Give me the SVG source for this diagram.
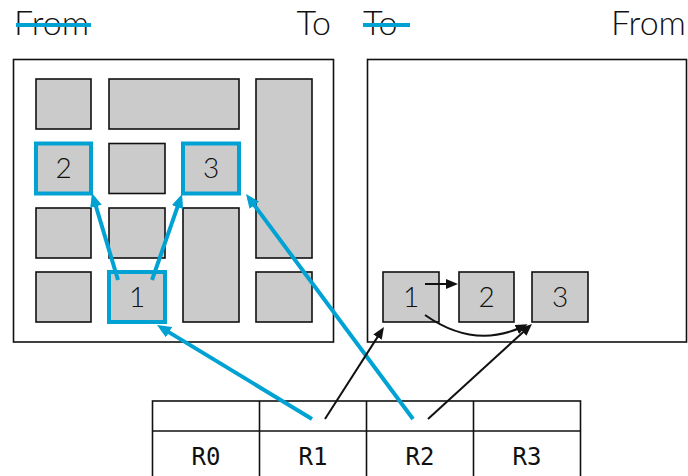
<svg xmlns="http://www.w3.org/2000/svg" width="688" height="476" viewBox="0 0 688 476">
<style>
.hdr{font-family:Lato,"Open Sans","Liberation Sans",sans-serif;font-weight:300;font-size:34px;fill:#111}
.num{font-family:Lato,"Open Sans","Liberation Sans",sans-serif;font-weight:300;font-size:28px;fill:#111;text-anchor:middle}
.mono{font-family:"DejaVu Sans Mono","Liberation Mono",monospace;font-size:24px;fill:#111;text-anchor:middle}
.panel{fill:#fff;stroke:#111;stroke-width:1.6}
.cell{fill:#cbcbcb;stroke:#111;stroke-width:1.6}
.sel{fill:none;stroke:#00a2d3;stroke-width:4}
.strike{stroke:#00a2d3;stroke-width:4}
.blue{fill:none;stroke:#00a2d3;stroke-width:4}
.black{fill:none;stroke:#111;stroke-width:2}
.tbl{fill:none;stroke:#111;stroke-width:1.6}
</style>
<defs>
<marker id="ab" markerUnits="userSpaceOnUse" markerWidth="14" markerHeight="12" refX="9" refY="6" orient="auto"><path d="M0,0 L14,6 L0,12 z" fill="#00a2d3"/></marker>
<marker id="ak" markerUnits="userSpaceOnUse" markerWidth="12" markerHeight="10" refX="8" refY="5" orient="auto"><path d="M0,0 L12,5 L0,10 z" fill="#111"/></marker>
</defs>
<g id="headers">
<text class="hdr" x="14" y="35">From</text>
<line class="strike" x1="16" y1="25" x2="91" y2="25"/>
<text class="hdr" x="331" y="35" text-anchor="end">To</text>
<text class="hdr" x="363" y="35">To</text>
<line class="strike" x1="363" y1="25" x2="410" y2="25"/>
<text class="hdr" x="686" y="35" text-anchor="end">From</text>
</g>
<g id="from-panel">
<rect class="panel" x="13.5" y="59.5" width="320" height="282.5"/>
<rect class="cell" x="36" y="79" width="55" height="50"/>
<rect class="cell" x="109" y="79" width="130" height="50"/>
<rect class="cell" x="256" y="79" width="56" height="179"/>
<rect class="cell" x="109" y="143.5" width="56" height="50"/>
<rect class="cell" x="36" y="208" width="55" height="50"/>
<rect class="cell" x="109" y="208" width="56" height="50"/>
<rect class="cell" x="183" y="208" width="56" height="114"/>
<rect class="cell" x="36" y="272" width="55" height="50"/>
<rect class="cell" x="256" y="272" width="56" height="50"/>
</g>
<g id="src-2">
<rect class="cell" x="36" y="143.5" width="55" height="50"/>
<rect class="sel" x="36" y="143.5" width="55" height="50"/>
<text class="num" x="63.5" y="178">2</text>
</g>
<g id="src-3">
<rect class="cell" x="183" y="143.5" width="56" height="50"/>
<rect class="sel" x="183" y="143.5" width="56" height="50"/>
<text class="num" x="211" y="178">3</text>
</g>
<g id="src-1">
<rect class="cell" x="109" y="272" width="56" height="50"/>
<rect class="sel" x="109" y="272" width="56" height="50"/>
<text class="num" x="137" y="307">1</text>
</g>
<g id="to-panel">
<rect class="panel" x="367.5" y="59.5" width="319" height="282.5"/>
</g>
<g id="dst-1">
<rect class="cell" x="383" y="272" width="56" height="50"/>
<text class="num" x="411" y="307">1</text>
</g>
<g id="dst-2">
<rect class="cell" x="459" y="272" width="55" height="50"/>
<text class="num" x="486.5" y="307">2</text>
</g>
<g id="dst-3">
<rect class="cell" x="532" y="272" width="56" height="50"/>
<text class="num" x="560" y="307">3</text>
</g>
<g id="registers">
<rect class="tbl" x="152.5" y="401" width="428" height="90"/>
<line class="tbl" x1="152.5" y1="431" x2="580.5" y2="431"/>
<line class="tbl" x1="259.5" y1="401" x2="259.5" y2="476"/>
<line class="tbl" x1="366.5" y1="401" x2="366.5" y2="476"/>
<line class="tbl" x1="473.5" y1="401" x2="473.5" y2="476"/>
<text class="mono" x="206" y="465">R0</text>
<text class="mono" x="313" y="465">R1</text>
<text class="mono" x="420" y="465">R2</text>
<text class="mono" x="527" y="465">R3</text>
</g>
<g id="connectors">
<line class="blue" x1="118" y1="280" x2="93.4" y2="197.8" marker-end="url(#ab)"/>
<line class="blue" x1="152" y1="280" x2="180.4" y2="198.7" marker-end="url(#ab)"/>
<line class="blue" x1="413" y1="419" x2="249" y2="198" marker-end="url(#ab)"/>
<line class="blue" x1="312" y1="419" x2="161.3" y2="327.6" marker-end="url(#ab)"/>
<line class="black" x1="325" y1="419" x2="381.8" y2="330.4" marker-end="url(#ak)"/>
<line class="black" x1="428" y1="419" x2="529" y2="326.7" marker-end="url(#ak)"/>
<line class="black" x1="425" y1="284" x2="454" y2="284" marker-end="url(#ak)"/>
<path class="black" d="M425,315 Q475,350 524,326" marker-end="url(#ak)"/>
</g>
</svg>
